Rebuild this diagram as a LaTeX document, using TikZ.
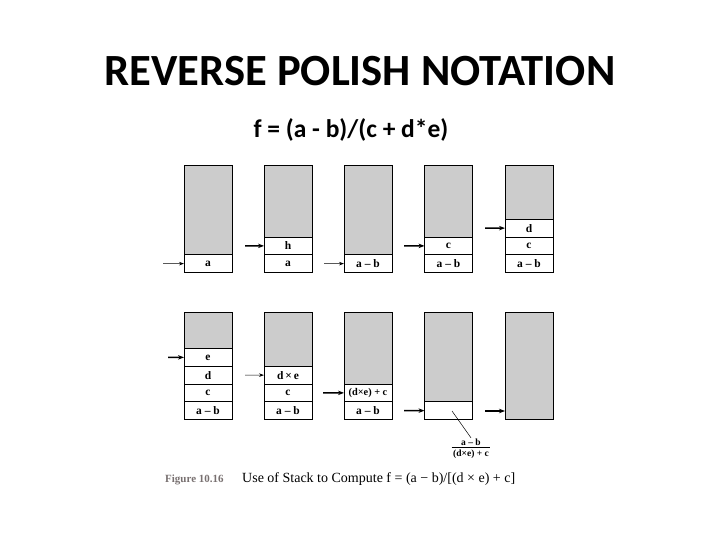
\documentclass[tikz,border=0pt]{standalone}
\usepackage{fontspec}
\setmainfont{Liberation Serif}
\newfontfamily\titlefont{Carlito}
\usetikzlibrary{arrows.meta}
\definecolor{stackgray}{RGB}{204,204,204}
\definecolor{figgray}{RGB}{120,112,112}
\begin{document}
\begin{tikzpicture}[x=1pt,y=-1pt,
  stackbox/.style={draw, line width=0.8pt, fill=stackgray, minimum width=48pt, minimum height=107.5pt, anchor=north west, inner sep=0pt, outer sep=0pt},
  cell/.style={draw, line width=0.8pt, fill=white, minimum width=48pt, minimum height=17.75pt, anchor=north west, inner sep=0pt, outer sep=0pt, font=\bfseries\fontsize{11.5}{12}\selectfont},
  arrthin/.style={-{Stealth[length=5pt,width=3.5pt]}, line width=0.7pt},
  arrthick/.style={-{Stealth[length=6pt,width=4.5pt]}, line width=1.4pt},
  lbl/.style={inner sep=0pt}]
\useasboundingbox (0,0) rectangle (720,540);
% titles
\node[lbl, font=\titlefont\bfseries\fontsize{44.6}{50}\selectfont] (title) at (360,71) {REVERSE POLISH NOTATION};
\node[lbl, font=\titlefont\bfseries\fontsize{25.5}{28}\selectfont] (sub) at (351,130) {f = (a - b)/(c + d*e)};
% ---------- top row ----------
\node[stackbox] (s1) at (184,165) {};
\node[cell] (c11) at (184,254.75) {a};
\node[stackbox] (s2) at (264,165) {};
\node[cell] (c21) at (264,254.75) {a};
\node[cell] (c22) at (264,237) {h};
\node[stackbox] (s3) at (344,165) {};
\node[cell] (c31) at (344,254.75) {a -- b};
\node[stackbox] (s4) at (424.5,165) {};
\node[cell] (c41) at (424.5,254.75) {a -- b};
\node[cell] (c42) at (424.5,237) {c};
\node[stackbox] (s5) at (505,165) {};
\node[cell] (c51) at (505,254.75) {a -- b};
\node[cell] (c52) at (505,237) {c};
\node[cell] (c53) at (505,219.25) {d};
\coordinate (a1) at (163,263.6);
\coordinate (a2) at (245,245.9);
\coordinate (a3) at (324,263.6);
\coordinate (a4) at (404,245.9);
\coordinate (a5) at (485,228.1);
\draw[arrthin] (a1) -- (c11.west);
\draw[arrthick] (a2) -- (c22.west);
\draw[arrthin] (a3) -- (c31.west);
\draw[arrthick] (a4) -- (c42.west);
\draw[arrthick] (a5) -- (c53.west);
% ---------- bottom row ----------
\node[stackbox] (s6) at (184,312) {};
\node[cell] (c61) at (184,401.75) {a -- b};
\node[cell] (c62) at (184,384) {c};
\node[cell] (c63) at (184,366.25) {d};
\node[cell] (c64) at (184,348.5) {e};
\node[stackbox] (s7) at (264,312) {};
\node[cell] (c71) at (264,401.75) {a -- b};
\node[cell] (c72) at (264,384) {c};
\node[cell] (c73) at (264,366.25) {d\,×\,e};
\node[stackbox] (s8) at (344,312) {};
\node[cell] (c81) at (344,401.75) {a -- b};
\node[cell, font=\bfseries\fontsize{10.3}{11}\selectfont] (c82) at (344,384) {(d×e) + c};
\node[stackbox] (s9) at (424.5,312) {};
\node[cell] (c91) at (424.5,401.75) {};
\node[stackbox] (s10) at (505,312) {};
\coordinate (a6) at (168,357.4);
\coordinate (a7) at (245,375.1);
\coordinate (a8) at (323,392.9);
\coordinate (a9) at (404,410.6);
\coordinate (a10) at (485,411);
\draw[arrthick] (a6) -- (c64.west);
\draw[arrthin] (a7) -- (c73.west);
\draw[arrthick] (a8) -- (c82.west);
\draw[arrthick] (a9) -- (c91.west);
\draw[arrthick] (a10) -- (a10 -| s10.west);
% result fraction
\node[lbl, font=\bfseries\fontsize{9.5}{10}\selectfont] (frac) at (471,449)
  {\begin{tabular}{@{\,}c@{\,}}a -- b\\[-1pt]\hline\rule{0pt}{9.5pt}(d×e) + c\end{tabular}};
\coordinate (lead) at (452,411);
\draw[line width=0.5pt] (lead) -- (frac.north) ;
% caption
\node[lbl, anchor=base west, text=figgray, font=\bfseries\fontsize{11}{12}\selectfont] (fig) at (165,482) {Figure 10.16};
\node[lbl, anchor=base west, font=\fontsize{14}{16}\selectfont] (cap) at (242,482) {Use of Stack to Compute f = (a − b)/[(d × e) + c]};
\end{tikzpicture}
\end{document}
